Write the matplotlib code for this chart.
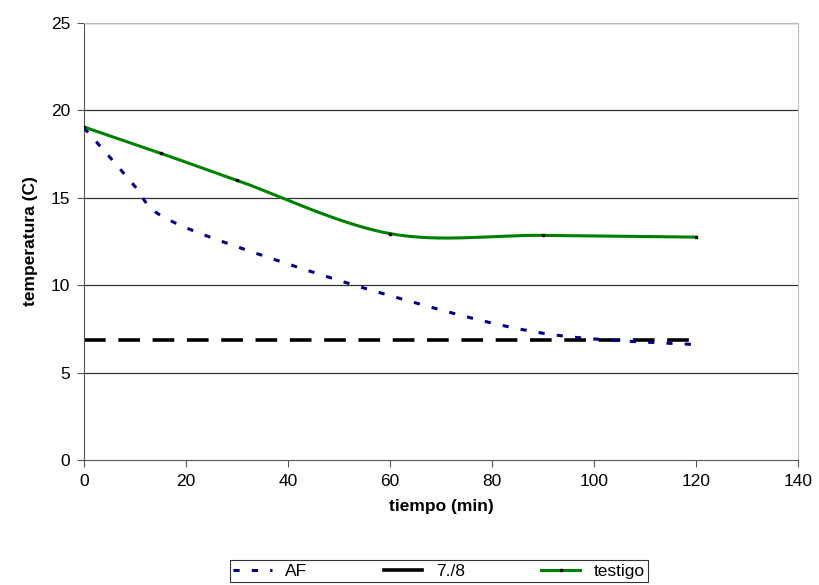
import matplotlib
matplotlib.use("Agg")
import matplotlib.pyplot as plt
import numpy as np

plt.rcParams['font.family'] = ['Liberation Sans', 'DejaVu Sans']

# datos
tiempo_af = [0, 5, 10, 15, 30, 60, 90, 120]
af = [19.0, 17.35, 15.65, 14.0, 12.2, 9.4, 7.25, 6.6]
tiempo = [0, 15, 30, 60, 90, 120]
testigo = [19.05, 17.55, 16.0, 12.95, 12.85, 12.75]
ref_x = [0, 120]
ref_y = [6.85, 6.85]


def suavizar(x, y, n=40):
    # curva suavizada tipo Excel (Catmull-Rom con Bezier)
    p = np.column_stack([x, y]).astype(float)
    p = np.vstack([p[0], p, p[-1]])
    xs, ys = [], []
    t = np.linspace(0, 1, n)
    for i in range(1, len(p) - 2):
        p0, p1, p2, p3 = p[i - 1], p[i], p[i + 1], p[i + 2]
        c1 = p1 + (p2 - p0) / 6
        c2 = p2 - (p3 - p1) / 6
        b = ((1 - t) ** 3)[:, None] * p1 + (3 * (1 - t) ** 2 * t)[:, None] * c1 \
            + (3 * (1 - t) * t ** 2)[:, None] * c2 + (t ** 3)[:, None] * p2
        xs.extend(b[:, 0])
        ys.extend(b[:, 1])
    return xs, ys


fig = plt.figure(figsize=(8.19, 5.85), dpi=100)
ax = fig.add_axes([0.1026, 0.2137, 0.8718, 0.747])

for v in [5, 10, 15, 20, 25]:
    ax.axhline(v, color='#333333', lw=0.9, zorder=1)

af_ls = (0, (2.0, 4.0))
sx, sy = suavizar(tiempo_af, af)
ax.plot(sx, sy, color='#000080', lw=2.2, ls=af_ls, zorder=3)
ax.plot(ref_x, ref_y, color='black', lw=2.6, ls=(0, (6, 3.5)), zorder=2)
gx, gy = suavizar(tiempo, testigo)
ax.plot(gx, gy, color='#008000', lw=2.2, zorder=4)
ax.plot(tiempo, testigo, ls='none', marker='s', ms=2, color='black', zorder=5)

ax.set_xlim(0, 140)
ax.set_ylim(0, 25)
ax.set_xticks(range(0, 141, 20))
ax.set_yticks(range(0, 26, 5))
ax.tick_params(direction='out', length=5, width=0.8, color='#555555', labelsize=12.5, pad=5)
for s in ['left', 'bottom']:
    ax.spines[s].set_color('#555555')
for s in ['right', 'top']:
    ax.spines[s].set_color('#bbbbbb')

ax.set_xlabel('tiempo (min)', fontsize=12.5, fontweight='bold', labelpad=7)
ax.set_ylabel('temperatura (C)', fontsize=12.5, fontweight='bold', labelpad=9)

h1, = ax.plot([], [], color='#000080', lw=2.2, ls=af_ls)
h2, = ax.plot([], [], color='black', lw=2.6)
h3, = ax.plot([], [], color='#008000', lw=2.2, marker='s', ms=2, mfc='black', mec='black')
leg = fig.legend([h1, h2, h3], ['AF', '7./8', 'testigo'], ncol=3,
                 loc='lower center', bbox_to_anchor=(0.536, -0.004), fontsize=12.5,
                 frameon=True, fancybox=False, edgecolor='black',
                 handlelength=2.2, columnspacing=4.4, borderpad=0.2, borderaxespad=0.3)
leg.get_frame().set_linewidth(0.8)

plt.savefig('out.png', dpi=100)
